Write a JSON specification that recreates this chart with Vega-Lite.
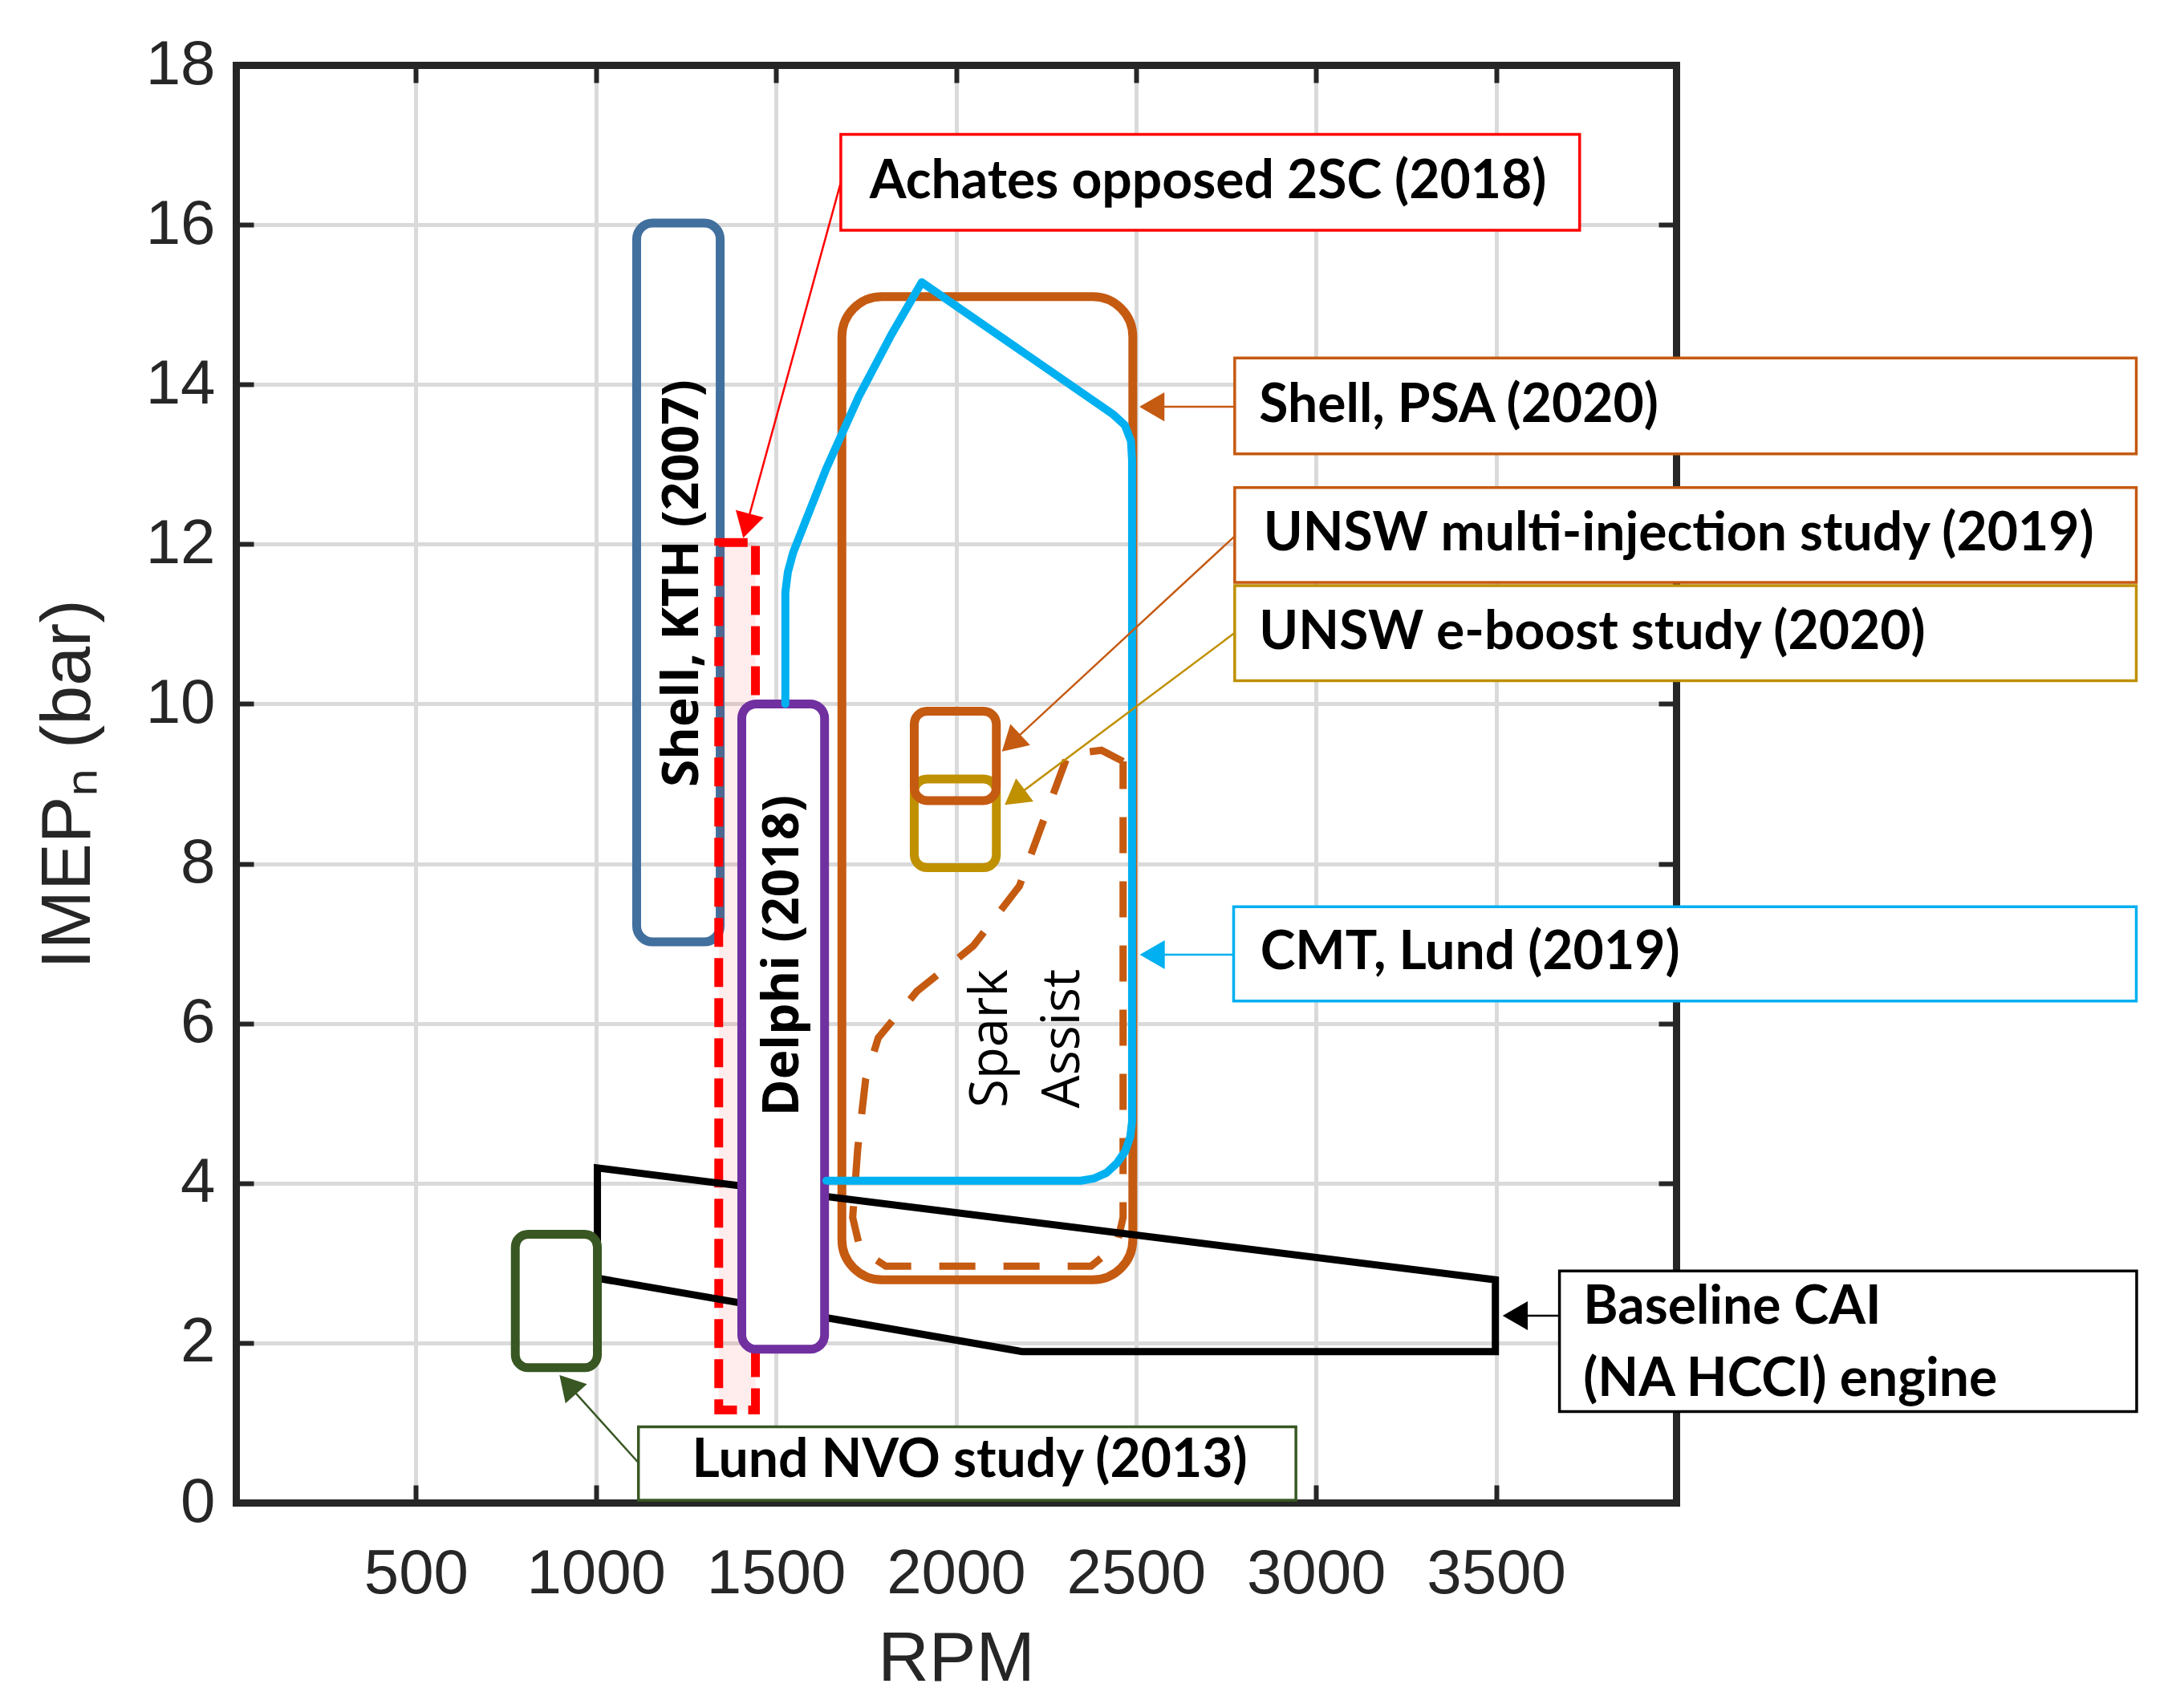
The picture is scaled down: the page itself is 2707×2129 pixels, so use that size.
{
  "$schema": "https://vega.github.io/schema/vega-lite/v6.json",
  "width": 1795,
  "height": 1792,
  "autosize": {"type": "none"},
  "padding": {"left": 294, "top": 81, "right": 618, "bottom": 256},
  "background": "white",
  "config": {
    "view": {"stroke": null},
    "axis": {
      "labelFont": "Liberation Sans", "labelFontSize": 78, "labelColor": "#262626", "labelLimit": 500,
      "titleFont": "Liberation Sans", "titleFontSize": 88, "titleFontWeight": "normal", "titleColor": "#262626",
      "domainColor": "#262626", "domainWidth": 9, "domainCap": "square",
      "tickColor": "#262626", "tickWidth": 6, "tickSize": -22,
      "gridColor": "#DADADA", "gridWidth": 5,
      "labelFlush": false, "labelOverlap": false
    }
  },
  "resolve": {"axis": {"x": "independent", "y": "independent"}},
  "layer": [
    {
      "layer": [
        {
          "data": {"values": [{"x": 1113, "x2": 1345, "y": 7.02, "y2": 16.02}]},
          "mark": {"type": "rect", "fill": "transparent", "stroke": "#41709E", "strokeWidth": 11, "cornerRadius": 20},
          "encoding": {
            "x": {"field": "x", "type": "quantitative", "scale": {"domain": [0, 4000], "nice": false, "zero": false},
                  "axis": {"orient": "bottom", "values": [500, 1000, 1500, 2000, 2500, 3000, 3500], "format": "d", "title": "RPM", "labelPadding": 72, "titlePadding": 23}},
            "x2": {"field": "x2"},
            "y": {"field": "y", "type": "quantitative", "scale": {"domain": [0, 18], "nice": false, "zero": false},
                  "axis": {"orient": "left", "values": [0, 2, 4, 6, 8, 10, 12, 14, 16, 18], "format": "d", "title": "IMEPₙ (bar)", "labelPadding": 48, "titlePadding": 52}},
            "y2": {"field": "y2"}
          }
        },
        {
          "data": {"values": [{"x": 1341, "x2": 1443, "y": 1.16, "y2": 12.02}]},
          "mark": {"type": "rect", "fill": "#FF0000", "fillOpacity": 0.07, "stroke": "#FF0000", "strokeWidth": 11, "strokeDash": [36, 14]},
          "encoding": {
            "x": {"field": "x", "type": "quantitative"}, "x2": {"field": "x2"},
            "y": {"field": "y", "type": "quantitative"}, "y2": {"field": "y2"}
          }
        },
        {
          "data": {"values": [{"x": 1683, "x2": 2491, "y": 2.79, "y2": 15.1}]},
          "mark": {"type": "rect", "fill": "transparent", "stroke": "#C55A11", "strokeWidth": 11, "cornerRadius": 50},
          "encoding": {
            "x": {"field": "x", "type": "quantitative"}, "x2": {"field": "x2"},
            "y": {"field": "y", "type": "quantitative"}, "y2": {"field": "y2"}
          }
        },
        {
          "data": {"values": [
            {"i": 1, "x": 2464, "y": 9.28},
            {"i": 2, "x": 2404, "y": 9.42},
            {"i": 3, "x": 2311, "y": 9.37},
            {"i": 4, "x": 2247, "y": 8.59},
            {"i": 5, "x": 2176, "y": 7.72},
            {"i": 6, "x": 2048, "y": 6.97},
            {"i": 7, "x": 1891, "y": 6.4},
            {"i": 8, "x": 1784, "y": 5.82},
            {"i": 9, "x": 1749, "y": 5.3},
            {"i": 10, "x": 1727, "y": 4.43},
            {"i": 11, "x": 1713, "y": 3.57},
            {"i": 12, "x": 1734, "y": 3.17},
            {"i": 13, "x": 1805, "y": 2.96},
            {"i": 14, "x": 2375, "y": 2.96},
            {"i": 15, "x": 2446, "y": 3.22},
            {"i": 16, "x": 2464, "y": 3.57},
            {"i": 17, "x": 2464, "y": 9.28}
          ]},
          "mark": {"type": "line", "color": "#C55A11", "strokeWidth": 9, "strokeDash": [45, 35]},
          "encoding": {
            "x": {"field": "x", "type": "quantitative"},
            "y": {"field": "y", "type": "quantitative"},
            "order": {"field": "i", "type": "quantitative"}
          }
        },
        {
          "data": {"values": [
            {"i": 1, "x": 1004, "y": 2.81},
            {"i": 2, "x": 1004, "y": 4.19},
            {"i": 3, "x": 3498, "y": 2.79},
            {"i": 4, "x": 3498, "y": 1.89},
            {"i": 5, "x": 2185, "y": 1.89},
            {"i": 6, "x": 1004, "y": 2.81}
          ]},
          "mark": {"type": "line", "color": "#000000", "strokeWidth": 9, "strokeJoin": "miter"},
          "encoding": {
            "x": {"field": "x", "type": "quantitative"},
            "y": {"field": "y", "type": "quantitative"},
            "order": {"field": "i", "type": "quantitative"}
          }
        },
        {
          "data": {"values": [{"x": 1405, "x2": 1635, "y": 1.92, "y2": 10.0}]},
          "mark": {"type": "rect", "fill": "white", "stroke": "#7030A0", "strokeWidth": 11, "cornerRadius": 18},
          "encoding": {
            "x": {"field": "x", "type": "quantitative"}, "x2": {"field": "x2"},
            "y": {"field": "y", "type": "quantitative"}, "y2": {"field": "y2"}
          }
        },
        {
          "data": {"values": [
            {"i": 1, "x": 1526, "y": 10.0},
            {"i": 2, "x": 1526, "y": 11.4},
            {"i": 3, "x": 1533, "y": 11.65},
            {"i": 4, "x": 1548, "y": 11.9},
            {"i": 5, "x": 1640, "y": 12.95},
            {"i": 6, "x": 1730, "y": 13.85},
            {"i": 7, "x": 1820, "y": 14.62},
            {"i": 8, "x": 1905, "y": 15.28},
            {"i": 9, "x": 2435, "y": 13.63},
            {"i": 10, "x": 2469, "y": 13.49},
            {"i": 11, "x": 2486, "y": 13.29},
            {"i": 12, "x": 2489, "y": 13.05},
            {"i": 13, "x": 2489, "y": 4.77},
            {"i": 14, "x": 2484, "y": 4.58},
            {"i": 15, "x": 2470, "y": 4.4},
            {"i": 16, "x": 2447, "y": 4.25},
            {"i": 17, "x": 2418, "y": 4.13},
            {"i": 18, "x": 2384, "y": 4.06},
            {"i": 19, "x": 2347, "y": 4.03},
            {"i": 20, "x": 1640, "y": 4.03}
          ]},
          "mark": {"type": "line", "color": "#00B0F0", "strokeWidth": 10, "strokeJoin": "round", "strokeCap": "round"},
          "encoding": {
            "x": {"field": "x", "type": "quantitative"},
            "y": {"field": "y", "type": "quantitative"},
            "order": {"field": "i", "type": "quantitative"}
          }
        },
        {
          "data": {"values": [{"x": 1884, "x2": 2112, "y": 7.95, "y2": 9.06}]},
          "mark": {"type": "rect", "fill": "transparent", "stroke": "#BF9000", "strokeWidth": 11, "cornerRadius": 16},
          "encoding": {
            "x": {"field": "x", "type": "quantitative"}, "x2": {"field": "x2"},
            "y": {"field": "y", "type": "quantitative"}, "y2": {"field": "y2"}
          }
        },
        {
          "data": {"values": [{"x": 1884, "x2": 2112, "y": 8.79, "y2": 9.91}]},
          "mark": {"type": "rect", "fill": "transparent", "stroke": "#C55A11", "strokeWidth": 11, "cornerRadius": 16},
          "encoding": {
            "x": {"field": "x", "type": "quantitative"}, "x2": {"field": "x2"},
            "y": {"field": "y", "type": "quantitative"}, "y2": {"field": "y2"}
          }
        },
        {
          "data": {"values": [{"x": 776, "x2": 1004, "y": 1.69, "y2": 3.36}]},
          "mark": {"type": "rect", "fill": "transparent", "stroke": "#385723", "strokeWidth": 11, "cornerRadius": 16},
          "encoding": {
            "x": {"field": "x", "type": "quantitative"}, "x2": {"field": "x2"},
            "y": {"field": "y", "type": "quantitative"}, "y2": {"field": "y2"}
          }
        },
        {
          "data": {"values": [
            {"x": 1241, "y": 11.51, "label": "Shell, KTH (2007)"},
            {"x": 1520, "y": 6.85, "label": "Delphi (2018)"}
          ]},
          "mark": {"type": "text", "font": "Open Sans", "fontWeight": "bold", "fontSize": 62, "angle": 270, "align": "center", "baseline": "middle", "color": "#000000"},
          "encoding": {
            "x": {"field": "x", "type": "quantitative"},
            "y": {"field": "y", "type": "quantitative"},
            "text": {"field": "label"}
          }
        },
        {
          "data": {"values": [
            {"x": 2098, "y": 5.81, "label": "Spark"},
            {"x": 2297, "y": 5.81, "label": "Assist"}
          ]},
          "mark": {"type": "text", "font": "Open Sans", "fontWeight": "normal", "fontSize": 65, "angle": 270, "align": "center", "baseline": "middle", "color": "#000000"},
          "encoding": {
            "x": {"field": "x", "type": "quantitative"},
            "y": {"field": "y", "type": "quantitative"},
            "text": {"field": "label"}
          }
        },
        {
          "data": {"values": [{"x": 1680, "y": 16.53, "x2": 1418, "y2": 12.23}]},
          "mark": {"type": "rule", "color": "#FF0000", "strokeWidth": 2.5},
          "encoding": {
            "x": {"field": "x", "type": "quantitative"}, "x2": {"field": "x2"},
            "y": {"field": "y", "type": "quantitative"}, "y2": {"field": "y2"}
          }
        },
        {
          "data": {"values": [{"x": 1418, "y": 12.23}]},
          "mark": {"type": "point", "shape": "triangle-up", "angle": 195, "filled": true, "color": "#FF0000", "size": 1300, "opacity": 1},
          "encoding": {"x": {"field": "x", "type": "quantitative"}, "y": {"field": "y", "type": "quantitative"}}
        },
        {
          "data": {"values": [
            {"x": 2774, "y": 13.72, "x2": 2544, "y2": 13.72},
            {"x": 2774, "y": 12.1, "x2": 2153, "y2": 9.51}
          ]},
          "mark": {"type": "rule", "color": "#C55A11", "strokeWidth": 2.5},
          "encoding": {
            "x": {"field": "x", "type": "quantitative"}, "x2": {"field": "x2"},
            "y": {"field": "y", "type": "quantitative"}, "y2": {"field": "y2"}
          }
        },
        {
          "data": {"values": [{"x": 2544, "y": 13.72}]},
          "mark": {"type": "point", "shape": "triangle-left", "filled": true, "color": "#C55A11", "size": 1300, "opacity": 1},
          "encoding": {"x": {"field": "x", "type": "quantitative"}, "y": {"field": "y", "type": "quantitative"}}
        },
        {
          "data": {"values": [{"x": 2153, "y": 9.51}]},
          "mark": {"type": "point", "shape": "triangle-up", "angle": 227, "filled": true, "color": "#C55A11", "size": 1300, "opacity": 1},
          "encoding": {"x": {"field": "x", "type": "quantitative"}, "y": {"field": "y", "type": "quantitative"}}
        },
        {
          "data": {"values": [{"x": 2774, "y": 10.89, "x2": 2163, "y2": 8.83}]},
          "mark": {"type": "rule", "color": "#BF9000", "strokeWidth": 2.5},
          "encoding": {
            "x": {"field": "x", "type": "quantitative"}, "x2": {"field": "x2"},
            "y": {"field": "y", "type": "quantitative"}, "y2": {"field": "y2"}
          }
        },
        {
          "data": {"values": [{"x": 2163, "y": 8.83}]},
          "mark": {"type": "point", "shape": "triangle-up", "angle": 233, "filled": true, "color": "#BF9000", "size": 1300, "opacity": 1},
          "encoding": {"x": {"field": "x", "type": "quantitative"}, "y": {"field": "y", "type": "quantitative"}}
        },
        {
          "data": {"values": [{"x": 2771, "y": 6.86, "x2": 2545, "y2": 6.86}]},
          "mark": {"type": "rule", "color": "#00B0F0", "strokeWidth": 2.5},
          "encoding": {
            "x": {"field": "x", "type": "quantitative"}, "x2": {"field": "x2"},
            "y": {"field": "y", "type": "quantitative"}, "y2": {"field": "y2"}
          }
        },
        {
          "data": {"values": [{"x": 2545, "y": 6.86}]},
          "mark": {"type": "point", "shape": "triangle-left", "filled": true, "color": "#00B0F0", "size": 1300, "opacity": 1},
          "encoding": {"x": {"field": "x", "type": "quantitative"}, "y": {"field": "y", "type": "quantitative"}}
        },
        {
          "data": {"values": [{"x": 3676, "y": 2.34, "x2": 3553, "y2": 2.34}]},
          "mark": {"type": "rule", "color": "#000000", "strokeWidth": 2.5},
          "encoding": {
            "x": {"field": "x", "type": "quantitative"}, "x2": {"field": "x2"},
            "y": {"field": "y", "type": "quantitative"}, "y2": {"field": "y2"}
          }
        },
        {
          "data": {"values": [{"x": 3553, "y": 2.34}]},
          "mark": {"type": "point", "shape": "triangle-left", "filled": true, "color": "#000000", "size": 1300, "opacity": 1},
          "encoding": {"x": {"field": "x", "type": "quantitative"}, "y": {"field": "y", "type": "quantitative"}}
        },
        {
          "data": {"values": [{"x": 1118, "y": 0.5, "x2": 922, "y2": 1.48}]},
          "mark": {"type": "rule", "color": "#385723", "strokeWidth": 2.5},
          "encoding": {
            "x": {"field": "x", "type": "quantitative"}, "x2": {"field": "x2"},
            "y": {"field": "y", "type": "quantitative"}, "y2": {"field": "y2"}
          }
        },
        {
          "data": {"values": [{"x": 922, "y": 1.48}]},
          "mark": {"type": "point", "shape": "triangle-up", "angle": 318, "filled": true, "color": "#385723", "size": 1300, "opacity": 1},
          "encoding": {"x": {"field": "x", "type": "quantitative"}, "y": {"field": "y", "type": "quantitative"}}
        },
        {
          "data": {"values": [{"x": 1680, "x2": 3732, "y": 15.93, "y2": 17.13}]},
          "mark": {"type": "rect", "fill": "white", "stroke": "#FF0000", "strokeWidth": 3.5},
          "encoding": {
            "x": {"field": "x", "type": "quantitative"}, "x2": {"field": "x2"},
            "y": {"field": "y", "type": "quantitative"}, "y2": {"field": "y2"}
          }
        },
        {
          "data": {"values": [
            {"x": 2774, "x2": 5278, "y": 13.13, "y2": 14.33},
            {"x": 2774, "x2": 5278, "y": 11.52, "y2": 12.71}
          ]},
          "mark": {"type": "rect", "fill": "white", "stroke": "#C55A11", "strokeWidth": 3.5},
          "encoding": {
            "x": {"field": "x", "type": "quantitative"}, "x2": {"field": "x2"},
            "y": {"field": "y", "type": "quantitative"}, "y2": {"field": "y2"}
          }
        },
        {
          "data": {"values": [{"x": 2774, "x2": 5278, "y": 10.29, "y2": 11.48}]},
          "mark": {"type": "rect", "fill": "white", "stroke": "#BF9000", "strokeWidth": 3.5},
          "encoding": {
            "x": {"field": "x", "type": "quantitative"}, "x2": {"field": "x2"},
            "y": {"field": "y", "type": "quantitative"}, "y2": {"field": "y2"}
          }
        },
        {
          "data": {"values": [{"x": 2771, "x2": 5278, "y": 6.28, "y2": 7.46}]},
          "mark": {"type": "rect", "fill": "white", "stroke": "#00B0F0", "strokeWidth": 3.5},
          "encoding": {
            "x": {"field": "x", "type": "quantitative"}, "x2": {"field": "x2"},
            "y": {"field": "y", "type": "quantitative"}, "y2": {"field": "y2"}
          }
        },
        {
          "data": {"values": [{"x": 3676, "x2": 5279, "y": 1.14, "y2": 2.9}]},
          "mark": {"type": "rect", "fill": "white", "stroke": "#000000", "strokeWidth": 3.5},
          "encoding": {
            "x": {"field": "x", "type": "quantitative"}, "x2": {"field": "x2"},
            "y": {"field": "y", "type": "quantitative"}, "y2": {"field": "y2"}
          }
        },
        {
          "data": {"values": [{"x": 1118, "x2": 2944, "y": 0.03, "y2": 0.95}]},
          "mark": {"type": "rect", "fill": "white", "stroke": "#385723", "strokeWidth": 3.5},
          "encoding": {
            "x": {"field": "x", "type": "quantitative"}, "x2": {"field": "x2"},
            "y": {"field": "y", "type": "quantitative"}, "y2": {"field": "y2"}
          }
        },
        {
          "data": {"values": [
            {"x": 1760, "y": 16.53, "label": "Achates opposed 2SC (2018)"},
            {"x": 2842, "y": 13.73, "label": "Shell, PSA (2020)"},
            {"x": 2854, "y": 12.12, "label": "UNSW multi-injection study (2019)"},
            {"x": 2842, "y": 10.89, "label": "UNSW e-boost study (2020)"},
            {"x": 2845, "y": 6.885, "label": "CMT, Lund (2019)"},
            {"x": 3742, "y": 2.44, "label": "Baseline CAI"},
            {"x": 3742, "y": 1.54, "label": "(NA HCCI) engine"},
            {"x": 1267, "y": 0.52, "label": "Lund NVO study (2013)"}
          ]},
          "mark": {"type": "text", "font": "Lato", "fontWeight": "bold", "fontSize": 66, "align": "left", "baseline": "middle", "color": "#000000"},
          "encoding": {
            "x": {"field": "x", "type": "quantitative"},
            "y": {"field": "y", "type": "quantitative"},
            "text": {"field": "label"}
          }
        }
      ]
    },
    {
      "data": {"values": [{"x": 0, "y": 0}]},
      "mark": {"type": "point", "opacity": 0},
      "encoding": {
        "x": {"field": "x", "type": "quantitative",
              "axis": {"orient": "top", "values": [500, 1000, 1500, 2000, 2500, 3000, 3500], "labels": false, "title": null, "grid": false}},
        "y": {"field": "y", "type": "quantitative",
              "axis": {"orient": "right", "values": [0, 2, 4, 6, 8, 10, 12, 14, 16, 18], "labels": false, "title": null, "grid": false}}
      }
    }
  ]
}
